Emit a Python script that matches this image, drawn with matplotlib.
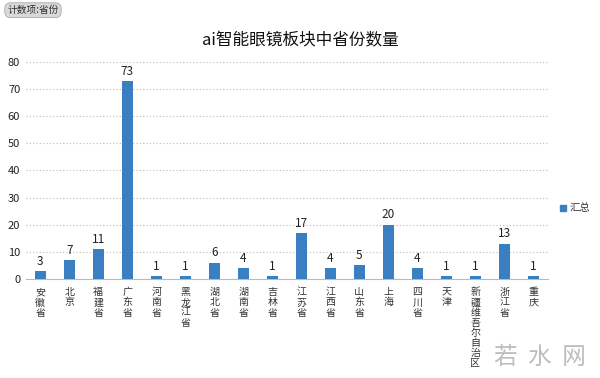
import matplotlib.pyplot as plt

plt.rcParams['font.family'] = ['Noto Sans CJK SC', 'DejaVu Sans']

provinces = ['安徽省', '北京', '福建省', '广东省', '河南省', '黑龙江省', '湖北省', '湖南省', '吉林省',
             '江苏省', '江西省', '山东省', '上海', '四川省', '天津', '新疆维吾尔自治区', '浙江省', '重庆']
counts = [3, 7, 11, 73, 1, 1, 6, 4, 1, 17, 4, 5, 20, 4, 1, 1, 13, 1]

bar_color = '#3a7fc1'

fig = plt.figure(figsize=(6, 3.78), dpi=100)
ax = fig.add_axes([0.043, 0.262, 0.87, 0.574])

x = list(range(len(provinces)))
ax.bar(x, counts, width=0.36, color=bar_color, zorder=3)
for xi, v in zip(x, counts):
    ax.text(xi, v + 1.2, str(v), ha='center', va='bottom', fontsize=8.5, color='#222222')

ax.set_xlim(-0.5, len(provinces) - 0.5)
ax.set_ylim(0, 80)
ax.set_yticks(range(0, 81, 10))
ax.tick_params(axis='y', length=0, labelsize=8, colors='#222222', pad=4)
ax.set_xticks(x)
ax.set_xticklabels(['\n'.join(p) for p in provinces], fontsize=7.2, va='top',
                   linespacing=1.02, color='#333333')
ax.tick_params(axis='x', length=0, pad=6)
ax.grid(axis='y', linestyle=(0, (1, 2)), color='#bbbbbb', linewidth=0.8, zorder=0)
for s in ['top', 'right', 'left']:
    ax.spines[s].set_visible(False)
ax.spines['bottom'].set_color('#bbbbbb')
ax.spines['bottom'].set_linewidth(0.8)

fig.text(0.5, 0.893, 'ai智能眼镜板块中省份数量', ha='center', va='center', fontsize=12, color='#111111')

# legend
fig.patches.append(plt.Rectangle((0.933, 0.442), 0.01, 0.016, transform=fig.transFigure,
                                 color=bar_color, figure=fig))
fig.text(0.95, 0.45, '汇总', ha='left', va='center', fontsize=7.5, color='#333333')

# pivot field button
fig.text(0.012, 0.973, '计数项:省份', ha='left', va='center', fontsize=7, color='#333333',
         bbox=dict(boxstyle='round,pad=0.25,rounding_size=0.6', fc='#d9d9d9', ec='#aaaaaa', lw=0.6))

# watermark
fig.text(0.9, 0.055, '若  水  网', ha='center', va='center', fontsize=17, color='#bdbdbd')

fig.savefig('out.png', dpi=100, facecolor='white')
